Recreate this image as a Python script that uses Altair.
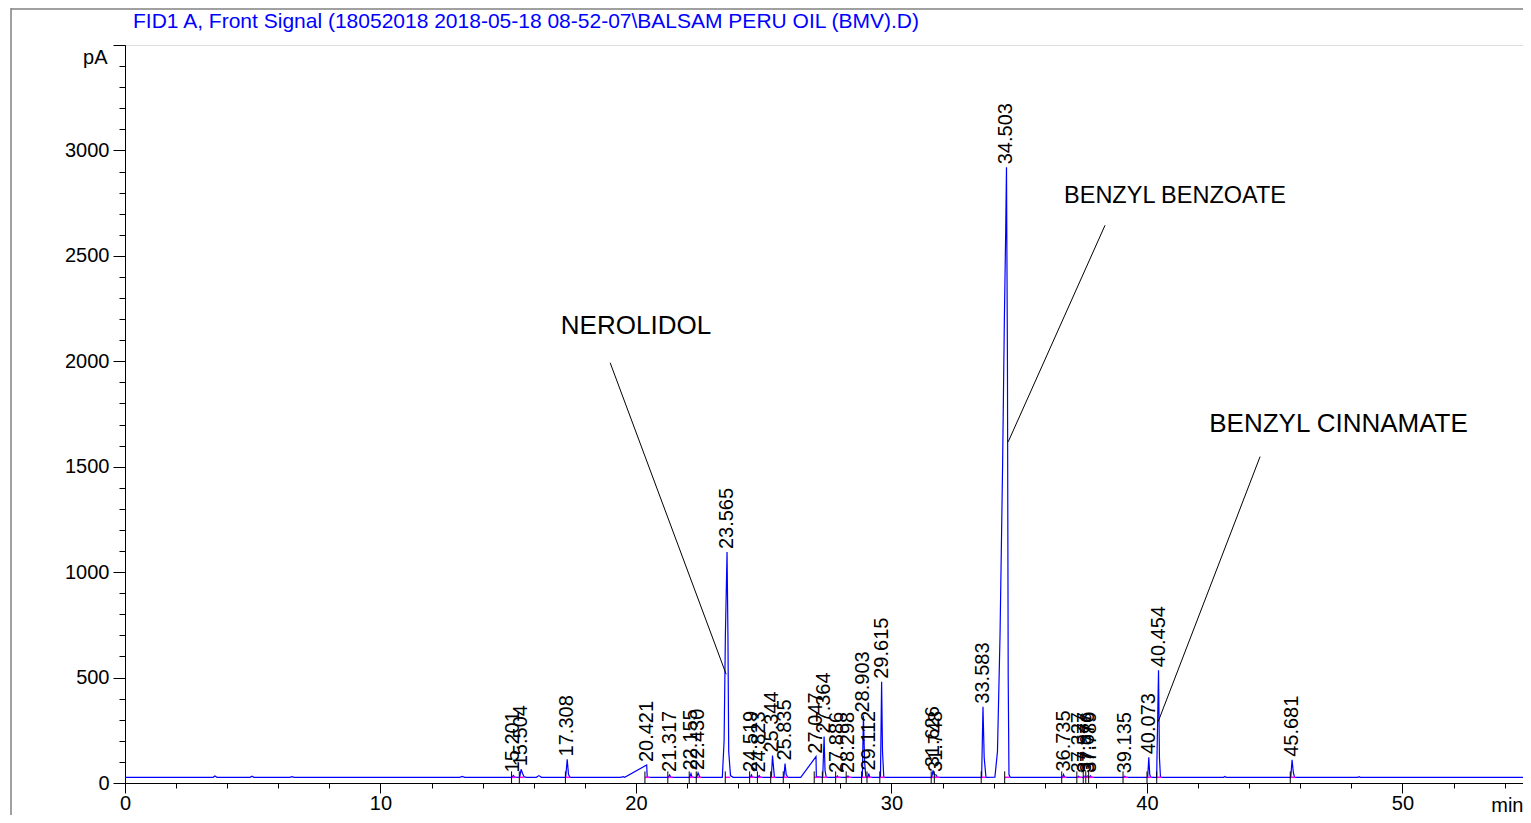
import altair as alt
import pandas as pd

# ---- chromatogram trace (time in min, signal in pA) ----
trace_t = [0.0, 3.45, 3.52, 3.6, 4.9, 4.97, 5.05, 6.45, 6.54, 6.62, 13.1, 13.2, 13.3,
           15.15, 15.201, 15.26, 15.45, 15.504, 15.56, 15.62, 15.7, 16.1, 16.2, 16.3,
           17.25, 17.308, 17.36, 17.42, 19.4, 19.5, 19.56, 20.42, 20.44, 21.27, 21.317, 21.37,
           22.1, 22.155, 22.2, 22.38, 22.43, 22.5,
           23.38, 23.45, 23.5, 23.565, 23.6, 23.63, 23.7, 23.8,
           24.48, 24.519, 24.56, 24.78, 24.823, 24.87, 25.3, 25.344, 25.38, 25.42,
           25.79, 25.835, 25.88, 25.95, 26.45, 27.047, 27.06, 27.31, 27.364, 27.4, 27.45,
           27.85, 27.886, 27.92, 28.26, 28.298, 28.34, 28.86, 28.903, 28.95, 29.0,
           29.08, 29.112, 29.15, 29.57, 29.615, 29.65, 29.7,
           31.58, 31.626, 31.67, 31.748, 31.8, 33.53, 33.583, 33.63, 33.7,
           34.05, 34.15, 34.25, 34.35, 34.42, 34.47, 34.503, 34.54, 34.57, 34.6, 34.65,
           36.7, 36.735, 36.78, 37.3, 37.327, 37.36, 37.55, 37.577, 37.62, 37.676, 37.72,
           37.76, 37.789, 37.83, 39.1, 39.135, 39.17, 40.03, 40.073, 40.11, 40.15,
           40.38, 40.42, 40.454, 40.49, 40.53, 43.0, 43.05, 43.1,
           45.63, 45.681, 45.73, 45.78, 48.25, 48.3, 48.35, 54.72]
trace_y = [27, 27, 33, 27, 27, 32, 27, 27, 30, 27, 27, 31, 27,
           27, 36, 27, 28, 65, 45, 30, 27, 27, 35, 27,
           27, 112, 40, 27, 27, 30, 27, 85, 27, 27, 38, 27,
           27, 45, 27, 27, 48, 27,
           27, 200, 700, 1095, 700, 150, 35, 27,
           27, 38, 27, 27, 35, 27, 27, 130, 80, 27,
           27, 92, 40, 27, 27, 125, 30, 27, 220, 60, 27,
           27, 33, 27, 27, 33, 27, 27, 320, 100, 27,
           27, 45, 27, 27, 480, 150, 27,
           27, 60, 40, 38, 27, 27, 362, 120, 27,
           28, 150, 700, 1500, 2200, 2600, 2920, 2000, 500, 40, 27,
           27, 40, 27, 27, 32, 27, 27, 33, 29, 33, 28,
           28, 34, 27, 27, 32, 27, 27, 122, 40, 27,
           27, 300, 535, 120, 27, 27, 31, 27,
           27, 110, 50, 27, 27, 30, 27, 27]

# ---- peak retention-time labels ----
peak_rt = [15.201, 15.504, 17.308, 20.421, 21.317, 22.155, 22.430, 23.565, 24.519, 24.823,
           25.344, 25.835, 27.047, 27.364, 27.886, 28.298, 28.903, 29.112, 29.615, 31.626,
           31.748, 33.583, 34.503, 36.735, 37.327, 37.577, 37.676, 37.789, 39.135, 40.073,
           40.454, 45.681]
peak_h = [36, 65, 112, 85, 38, 45, 48, 1095, 38, 35,
          130, 92, 125, 220, 33, 33, 320, 45, 480, 60,
          38, 362, 2920, 40, 32, 33, 33, 34, 32, 122,
          535, 110]
peak_text = ["15.201", "15.504", "17.308", "20.421", "21.317", "22.155", "22.430", "23.565",
             "24.519", "24.823", "25.344", "25.835", "27.047", "27.364", "27.886", "28.298",
             "28.903", "29.112", "29.615", "31.626", "31.748", "33.583", "34.503", "36.735",
             "37.327", "37.577", "37.676", "37.789", "39.135", "40.073", "40.454", "45.681"]

# ---- compound annotations ----
ann_text = ["NEROLIDOL", "BENZYL BENZOATE", "BENZYL CINNAMATE"]
ann_size = [26, 23.5, 26]
ann_tx = [20.0, 41.1, 47.5]
ann_ty = [2167, 2786, 1703]
ann_x1 = [18.99, 38.36, 44.43]
ann_y1 = [1993, 2645, 1548]
ann_x2 = [23.53, 34.57, 40.44]
ann_y2 = [516, 1618, 291]

TITLE = "FID1 A, Front Signal (18052018 2018-05-18 08-52-07\\BALSAM PERU OIL (BMV).D)"
FONT = "Liberation Sans"
BLUE = "#0000FF"
XMAX = 54.72

trace = pd.DataFrame({"t": trace_t, "y": trace_y})
peaks = pd.DataFrame({"rt": peak_rt, "h": peak_h, "lab": peak_text})
peaks["s"] = peaks["rt"] - 0.07
peaks["e"] = peaks["rt"] + 0.12
ann = pd.DataFrame({"txt": ann_text, "fs": ann_size, "tx": ann_tx, "ty": ann_ty,
                    "x1": ann_x1, "y1": ann_y1, "x2": ann_x2, "y2": ann_y2})
one = pd.DataFrame({"title": [TITLE]})

xscale = alt.Scale(domain=[0, XMAX], nice=False, zero=False)
yscale = alt.Scale(domain=[0, 3500], nice=False)

x_major = alt.Axis(orient="bottom", values=[0, 10, 20, 30, 40, 50], tickSize=10,
                   labelFontSize=20, labelFont=FONT, labelColor="black", labelPadding=0,
                   domainColor="black", tickColor="black", grid=False, labelFlush=False,
                   title="min", titleFont=FONT, titleFontSize=20, titleFontWeight="normal",
                   titleX=1398, titleY=28, titleAlign="right", titleBaseline="alphabetic",
                   titleAngle=0)
y_major = alt.Axis(orient="left", values=[0, 500, 1000, 1500, 2000, 2500, 3000, 3500],
                   tickSize=12, labelFontSize=20, labelFont=FONT, labelColor="black",
                   labelPadding=4, domainColor="black", tickColor="black", grid=False,
                   labelExpr="datum.value > 3000 ? '' : datum.label", format="d",
                   title="pA", titleFont=FONT, titleFontSize=20, titleFontWeight="normal",
                   titleAngle=0, titleX=-18, titleY=12, titleAlign="right",
                   titleBaseline="middle")
x_minor = alt.Axis(orient="bottom", values=list(range(0, 55, 2)), tickSize=5, labels=False,
                   domain=False, grid=False, title=None, tickColor="black")
y_minor = alt.Axis(orient="left", values=list(range(0, 3501, 100)), tickSize=6, labels=False,
                   domain=False, grid=False, title=None, tickColor="black")

line = alt.Chart(trace).mark_line(color=BLUE, strokeWidth=1.2).encode(
    x=alt.X("t:Q", scale=xscale, axis=x_major),
    y=alt.Y("y:Q", scale=yscale, axis=y_major),
)
minor = alt.Chart(trace).mark_line(opacity=0).encode(
    x=alt.X("t:Q", scale=xscale, axis=x_minor),
    y=alt.Y("y:Q", scale=yscale, axis=y_minor),
)
base_seg = alt.Chart(peaks).mark_rule(color="#FF00FF", strokeWidth=1.5).encode(
    x=alt.X("s:Q", scale=xscale, axis=None), x2="e:Q",
    y=alt.Y(datum=27, scale=yscale, axis=None))
ev_s = alt.Chart(peaks).mark_rule(color="black", strokeWidth=1).encode(
    x=alt.X("s:Q", scale=xscale, axis=None),
    y=alt.Y(datum=0, scale=yscale, axis=None), y2=alt.datum(55))
labels = alt.Chart(peaks).mark_text(angle=270, align="left", baseline="middle", dx=3,
                                    fontSize=20, font=FONT, color="black").encode(
    x=alt.X("rt:Q", scale=xscale, axis=None),
    y=alt.Y("h:Q", scale=yscale, axis=None), text="lab:N")
ann_lines = alt.Chart(ann).mark_rule(color="black", strokeWidth=1).encode(
    x=alt.X("x1:Q", scale=xscale, axis=None), y=alt.Y("y1:Q", scale=yscale, axis=None),
    x2="x2:Q", y2="y2:Q")
ann_txt = alt.Chart(ann).mark_text(font=FONT, color="black",
                                   align="center", baseline="middle").encode(
    x=alt.X("tx:Q", scale=xscale, axis=None), y=alt.Y("ty:Q", scale=yscale, axis=None),
    size=alt.Size("fs:Q", scale=None, legend=None),
    text="txt:N")
title_txt = alt.Chart(one).mark_text(font=FONT, fontSize=21, color=BLUE, align="left",
                                     baseline="middle").encode(
    x=alt.value(8), y=alt.value(-23), text="title:N")
frame_l = alt.Chart(one).mark_rule(color="#808080", strokeWidth=1.5).encode(
    x=alt.value(-114), y=alt.value(-37), y2=alt.value(800))
frame_t = alt.Chart(one).mark_rule(color="#808080", strokeWidth=1.5).encode(
    x=alt.value(-114), x2=alt.value(1410), y=alt.value(-36))

chart = alt.layer(
    line, minor, base_seg, ev_s, labels, ann_lines, ann_txt, title_txt, frame_l, frame_t
).resolve_axis(x="independent", y="independent").properties(
    width=1398, height=738,
    autosize=alt.AutoSizeParams(type="none"),
    padding={"left": 117, "top": 37, "right": 0, "bottom": 32},
).configure_view(stroke=None).configure(background="white")

chart.save("out.html", embed_options={"renderer": "svg", "actions": False})
